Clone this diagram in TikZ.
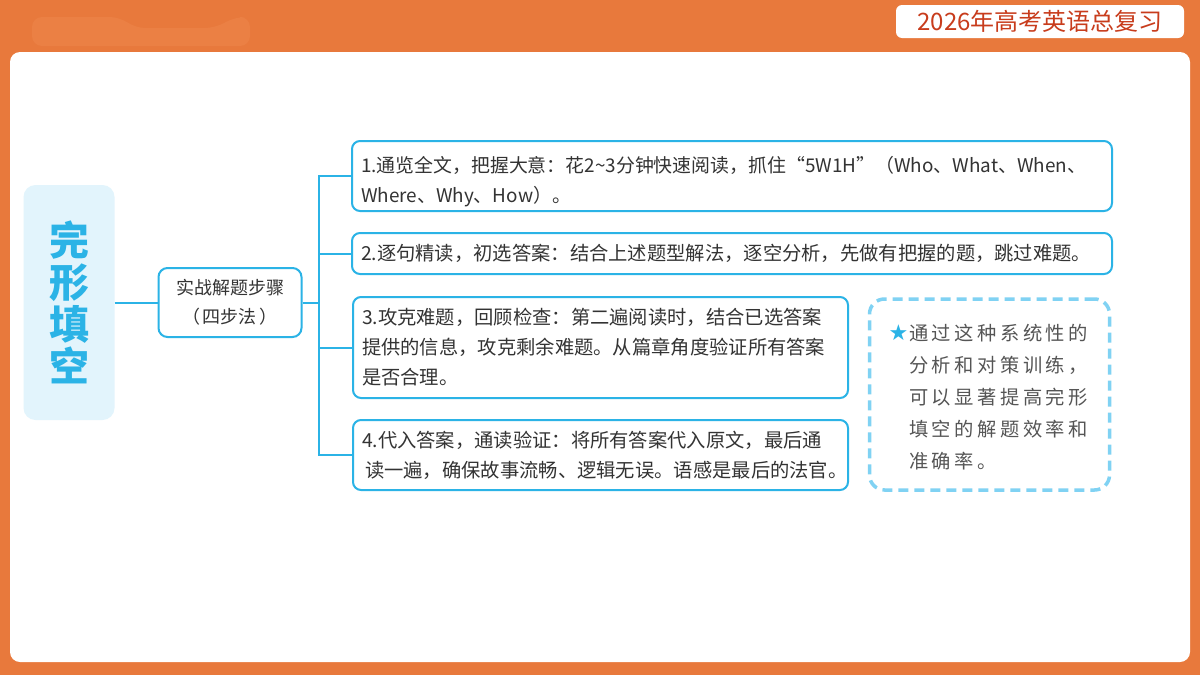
\documentclass[tikz,border=0pt]{standalone}
\usepackage{fontspec}
\setmainfont{Noto Sans CJK SC}
\newfontfamily\spacedfont[LetterSpace=18]{Noto Sans CJK SC}
\newfontfamily\symfont{DejaVu Sans}
\definecolor{bgorange}{HTML}{E8793C}
\definecolor{blurorange}{HTML}{EB8044}
\definecolor{titlered}{HTML}{C83C1C}
\definecolor{lightblue}{HTML}{E2F4FC}
\definecolor{mainblue}{HTML}{2BB3E6}
\definecolor{dashblue}{HTML}{80D2F3}
\definecolor{txtgray}{HTML}{333333}
\definecolor{notegray}{HTML}{555555}
\tikzset{
  stepbox/.style={draw=mainblue, line width=2pt, rounded corners=8pt, fill=white,
    text width=477pt, align=left, inner xsep=9pt, inner ysep=0pt,
    font=\fontsize{19.3}{30}\selectfont, text=txtgray},
  conn/.style={draw=mainblue, line width=2pt},
}
\begin{document}
\begin{tikzpicture}[x=1pt,y=-1pt]
\useasboundingbox (0,0) rectangle (1200,675);
\fill[bgorange] (0,0) rectangle (1200,675);
\fill[blurorange, rounded corners=10pt] (32,17) -- (120,17) -- (135,28) -- (215,28) -- (235,17) -- (250,17) -- (250,46) -- (32,46) -- cycle;
\fill[white, rounded corners=10pt] (10,52) rectangle (1190,662);
% title
\node[fill=white, rounded corners=6pt, minimum width=288pt, minimum height=33pt, inner sep=0pt,
  text=titlered, font=\fontsize{24}{24}\selectfont] (title) at (1040,21.5) {2026年高考英语总复习};
% main topic
\node[fill=lightblue, rounded corners=12pt, minimum width=91pt, minimum height=235pt, inner sep=0pt,
  text=mainblue, align=center, font=\fontsize{40}{42}\selectfont\bfseries] (main) at (69,302.5) {完\\形\\填\\空};
% middle node
\node[draw=mainblue, line width=2pt, rounded corners=9pt, fill=white, minimum width=143pt, minimum height=69pt,
  inner sep=0pt, align=center, text=txtgray, font=\fontsize{18}{29}\selectfont] (mid) at (230,302.5) {实战解题步骤\\（\,四步法\,）};
% step boxes
\node[stepbox, text width=742pt, minimum height=70pt, font=\fontsize{18.9}{30}\selectfont] (b1) at (732,176)
 {\rule{0pt}{27pt}1.通览全文，把握大意：花2{\char126}3分钟快速阅读，抓住“5W1H”（Who、What、When、\\Where、Why、How）。};
\node[stepbox, text width=742pt, minimum height=41pt] (b2) at (732,253.5)
 {2.逐句精读，初选答案：结合上述题型解法，逐空分析，先做有把握的题，跳过难题。};
\node[stepbox, minimum height=101pt] (b3) at (600.5,347.5)
 {3.攻克难题，回顾检查：第二遍阅读时，结合已选答案\\提供的信息，攻克剩余难题。从篇章角度验证所有答案\\是否合理。};
\node[stepbox, minimum height=70pt] (b4) at (600.5,455)
 {4.代入答案，通读验证：将所有答案代入原文，最后通\\\hspace*{3pt}读一遍，确保故事流畅、逻辑无误。语感是最后的法官。};
% connectors
\coordinate (tm) at (319,302.5);
\draw[conn] (main.east) -- (mid.west);
\draw[conn] (mid.east) -- (tm);
\draw[conn] (b1.west) -| (tm);
\draw[conn] (b4.west) -| (tm);
\draw[conn] (b2.west) -- (b2.west -| tm);
\draw[conn] (b3.west) -- (b3.west -| tm);
% note box
\node[draw=dashblue, line width=3.5pt, dash pattern=on 10pt off 6pt, rounded corners=15pt,
  minimum width=240pt, minimum height=191pt, inner sep=0pt] (note) at (989.5,394.5) {};
\node[text=mainblue, font=\symfont\fontsize{22}{22}\selectfont, inner sep=0pt] (star) at (898.5,333) {★};
\node[anchor=north west, inner sep=0pt, align=left, text=notegray,
  font=\spacedfont\fontsize{19.3}{32}\selectfont] (notetext) at (909,324)
 {通过这种系统性的\\分析和对策训练，\\可以显著提高完形\\填空的解题效率和\\准确率。};
\end{tikzpicture}
\end{document}
